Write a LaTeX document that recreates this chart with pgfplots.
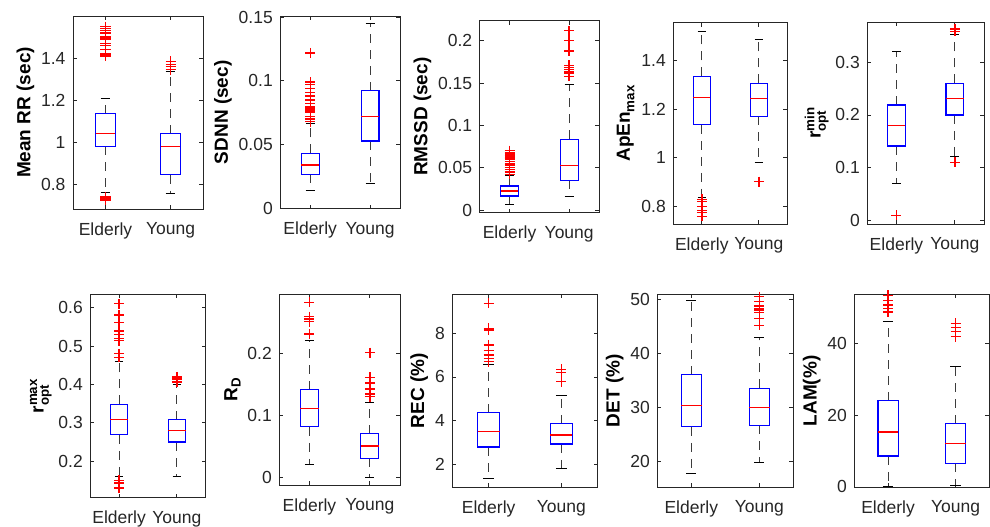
\documentclass[border=0pt]{standalone}
\usepackage{amsmath}
\usepackage{fontspec}
\setmainfont{Liberation Sans}
\usepackage{pgfplots}
\pgfplotsset{compat=1.18}
\usepgfplotslibrary{statistics}
\definecolor{axc}{RGB}{38,38,38}
\definecolor{wk}{RGB}{60,60,60}
\pgfplotsset{
  panel/.style={
    scale only axis,
    anchor=north west,
    xmin=0.5, xmax=2.5,
    xtick={1,2}, xticklabels={Elderly,Young},
    tick align=inside,
    major tick length=4pt,
    axis line style={draw=axc, line width=0.8pt},
    every tick/.style={draw=axc, line width=0.8pt},
    tick label style={font=\fontsize{17.5}{20}\selectfont, text=axc},
    xticklabel style={yshift=-10pt},
    yticklabel style={xshift=-4pt},
    label style={font=\fontsize{19}{22}\selectfont\bfseries, text=black},
    /pgf/number format/assume math mode=true,
    scaled y ticks=false,
    boxplot/draw direction=y,
    boxplot/box extend=0.3,
    boxplot/whisker extend=0.15,
    boxplot/every box/.style={draw=blue, line width=1.2pt},
    boxplot/every median/.style={draw=red, line width=1.2pt},
    boxplot/draw/lower whisker/.code={%
      \draw[wk, line width=1.1pt, dash pattern=on 9pt off 7pt]
        (boxplot box cs:\pgfplotsboxplotvalue{lower quartile},0.5) --
        (boxplot box cs:\pgfplotsboxplotvalue{lower whisker},0.5);
      \draw[black, line width=1pt]
        (boxplot whisker cs:\pgfplotsboxplotvalue{lower whisker},0) --
        (boxplot whisker cs:\pgfplotsboxplotvalue{lower whisker},1);
    },
    boxplot/draw/upper whisker/.code={%
      \draw[wk, line width=1.1pt, dash pattern=on 9pt off 7pt]
        (boxplot box cs:\pgfplotsboxplotvalue{upper quartile},0.5) --
        (boxplot box cs:\pgfplotsboxplotvalue{upper whisker},0.5);
      \draw[black, line width=1pt]
        (boxplot whisker cs:\pgfplotsboxplotvalue{upper whisker},0) --
        (boxplot whisker cs:\pgfplotsboxplotvalue{upper whisker},1);
    },
  },
  bx/.style={draw=blue, mark=+, mark size=5pt, mark options={draw=red, solid, line width=1.4pt}},
}
\begin{document}
\begin{tikzpicture}
\useasboundingbox (0,0) rectangle (990pt,-527pt);
% Panel 1: Mean RR
\begin{axis}[panel, at={(73pt,-16pt)}, width=130pt, height=193pt,
  ymin=0.682, ymax=1.60, ytick={0.8,1,1.2,1.4}, yticklabels={0.8,1,1.2,1.4},
  ylabel={Mean RR (sec)}]
\addplot[bx, boxplot prepared={draw position=1, median=1.04, lower quartile=0.98, upper quartile=1.135, lower whisker=0.762, upper whisker=1.208}]
  coordinates {(1,1.41) (1,1.42) (1,1.44) (1,1.46) (1,1.47) (1,1.49) (1,1.50) (1,1.52) (1,1.53) (1,1.54) (1,1.55) (1,0.725) (1,0.735) (1,0.74)};
\addplot[bx, boxplot prepared={draw position=2, median=0.98, lower quartile=0.845, upper quartile=1.04, lower whisker=0.754, upper whisker=1.336}]
  coordinates {(2,1.345) (2,1.36) (2,1.37) (2,1.385)};
\end{axis}
% Panel 2: SDNN
\begin{axis}[panel, at={(280.3pt,-16pt)}, width=119.7pt, height=192.7pt,
  ymin=-0.0005, ymax=0.151, ytick={0,0.05,0.1,0.15}, yticklabels={0,0.05,0.1,0.15},
  ylabel={SDNN (sec)}]
\addplot[bx, boxplot prepared={draw position=1, median=0.0338, lower quartile=0.0265, upper quartile=0.043, lower whisker=0.0139, upper whisker=0.0666}]
  coordinates {(1,0.068) (1,0.070) (1,0.072) (1,0.075) (1,0.076) (1,0.077) (1,0.078) (1,0.079) (1,0.080) (1,0.082) (1,0.085) (1,0.088) (1,0.091) (1,0.094) (1,0.097) (1,0.099) (1,0.122)};
\addplot[bx, boxplot prepared={draw position=2, median=0.0723, lower quartile=0.0527, upper quartile=0.0922, lower whisker=0.0191, upper whisker=0.1452}]
  coordinates {};
\end{axis}
% Panel 3: RMSSD
\begin{axis}[panel, at={(479.7pt,-20.7pt)}, width=119.3pt, height=192pt,
  ymin=-0.0032, ymax=0.2236, ytick={0,0.05,0.1,0.15,0.2}, yticklabels={0,0.05,0.1,0.15,0.2},
  ylabel={RMSSD (sec)}]
\addplot[bx, boxplot prepared={draw position=1, median=0.0225, lower quartile=0.0165, upper quartile=0.0284, lower whisker=0.0063, upper whisker=0.0405}]
  coordinates {(1,0.042) (1,0.045) (1,0.048) (1,0.050) (1,0.053) (1,0.055) (1,0.057) (1,0.060) (1,0.062) (1,0.064) (1,0.066) (1,0.068) (1,0.070)};
\addplot[bx, boxplot prepared={draw position=2, median=0.0524, lower quartile=0.0351, upper quartile=0.0836, lower whisker=0.0162, upper whisker=0.1478}]
  coordinates {(2,0.158) (2,0.161) (2,0.163) (2,0.166) (2,0.168) (2,0.171) (2,0.188) (2,0.200) (2,0.212)};
\end{axis}
% Panel 4: ApEn max
\begin{axis}[panel, at={(673.3pt,-22.7pt)}, width=114pt, height=201.3pt,
  ymin=0.729, ymax=1.553, ytick={0.8,1,1.2,1.4}, yticklabels={0.8,1,1.2,1.4},
  ylabel={$\textbf{ApEn}_{\textbf{max}}$}]
\addplot[bx, boxplot prepared={draw position=1, median=1.246, lower quartile=1.135, upper quartile=1.333, lower whisker=0.837, upper whisker=1.515}]
  coordinates {(1,0.76) (1,0.775) (1,0.785) (1,0.80) (1,0.82) (1,0.83)};
\addplot[bx, boxplot prepared={draw position=2, median=1.243, lower quartile=1.17, upper quartile=1.305, lower whisker=0.98, upper whisker=1.486}]
  coordinates {(2,0.902)};
\end{axis}
% Panel 5: r opt min
\begin{axis}[panel, at={(867.3pt,-22pt)}, width=116.7pt, height=202pt,
  ymin=-0.007, ymax=0.3765, ytick={0,0.1,0.2,0.3}, yticklabels={0,0.1,0.2,0.3},
  ylabel={$\textbf{r}^{\textbf{min}}_{\textbf{opt}}$}]
\addplot[bx, boxplot prepared={draw position=1, median=0.18, lower quartile=0.141, upper quartile=0.219, lower whisker=0.07, upper whisker=0.3196}]
  coordinates {(1,0.0095)};
\addplot[bx, boxplot prepared={draw position=2, median=0.231, lower quartile=0.2, upper quartile=0.26, lower whisker=0.122, upper whisker=0.3535}]
  coordinates {(2,0.110) (2,0.359) (2,0.362) (2,0.364)};
\end{axis}
% Panel 6: r opt max
\begin{axis}[panel, at={(90.3pt,-294.3pt)}, width=115.4pt, height=203.4pt,
  ymin=0.105, ymax=0.635, ytick={0.2,0.3,0.4,0.5,0.6}, yticklabels={0.2,0.3,0.4,0.5,0.6},
  ylabel={$\textbf{r}^{\textbf{max}}_{\textbf{opt}}$}]
\addplot[bx, boxplot prepared={draw position=1, median=0.3085, lower quartile=0.269, upper quartile=0.348, lower whisker=0.16, upper whisker=0.46}]
  coordinates {(1,0.471) (1,0.48) (1,0.514) (1,0.52) (1,0.531) (1,0.539) (1,0.561) (1,0.581) (1,0.611) (1,0.13) (1,0.143) (1,0.15)};
\addplot[bx, boxplot prepared={draw position=2, median=0.28, lower quartile=0.25, upper quartile=0.3085, lower whisker=0.16, upper whisker=0.40}]
  coordinates {(2,0.407) (2,0.414) (2,0.42)};
\end{axis}
% Panel 7: R_D
\begin{axis}[panel, at={(279.3pt,-294.3pt)}, width=120.7pt, height=191pt,
  ymin=-0.013, ymax=0.295, ytick={0,0.1,0.2}, yticklabels={0,0.1,0.2},
  ylabel={$\textbf{R}_{\textbf{D}}$}]
\addplot[bx, boxplot prepared={draw position=1, median=0.111, lower quartile=0.0812, upper quartile=0.1409, lower whisker=0.021, upper whisker=0.221}]
  coordinates {(1,0.231) (1,0.251) (1,0.255) (1,0.259) (1,0.282)};
\addplot[bx, boxplot prepared={draw position=2, median=0.0505, lower quartile=0.0306, upper quartile=0.0704, lower whisker=0.0, upper whisker=0.12}]
  coordinates {(2,0.130) (2,0.134) (2,0.142) (2,0.152) (2,0.161) (2,0.201)};
\end{axis}
% Panel 8: REC
\begin{axis}[panel, at={(452.3pt,-294.3pt)}, width=145.4pt, height=192.7pt,
  ymin=0.96, ymax=9.785, ytick={2,4,6,8}, yticklabels={2,4,6,8},
  ylabel={REC (\%)}]
\addplot[bx, boxplot prepared={draw position=1, median=3.5, lower quartile=2.79, upper quartile=4.37, lower whisker=1.36, upper whisker=6.56}]
  coordinates {(1,6.7) (1,6.85) (1,7.0) (1,7.2) (1,7.47) (1,8.15) (1,8.23) (1,9.37)};
\addplot[bx, boxplot prepared={draw position=2, median=3.34, lower quartile=2.93, upper quartile=3.86, lower whisker=1.82, upper whisker=5.16}]
  coordinates {(2,5.79) (2,6.2) (2,6.35)};
\end{axis}
% Panel 9: DET
\begin{axis}[panel, at={(657.3pt,-294.3pt)}, width=136pt, height=192.7pt,
  ymin=15.24, ymax=50.93, ytick={20,30,40,50}, yticklabels={20,30,40,50},
  ylabel={DET (\%)}]
\addplot[bx, boxplot prepared={draw position=1, median=30.37, lower quartile=26.4, upper quartile=36.05, lower whisker=17.7, upper whisker=49.75}]
  coordinates {};
\addplot[bx, boxplot prepared={draw position=2, median=30.0, lower quartile=26.67, upper quartile=33.5, lower whisker=19.7, upper whisker=42.9}]
  coordinates {(2,45.2) (2,46.4) (2,47.6) (2,48.0) (2,48.3) (2,48.8) (2,49.6) (2,50.5)};
\end{axis}
% Panel 10: LAM
\begin{axis}[panel, at={(854.3pt,-294.3pt)}, width=135pt, height=193pt,
  ymin=-0.1, ymax=53.6, ytick={0,20,40}, yticklabels={0,20,40},
  ylabel={LAM(\%)}]
\addplot[bx, boxplot prepared={draw position=1, median=15.3, lower quartile=8.6, upper quartile=24.0, lower whisker=0.2, upper whisker=45.9}]
  coordinates {(1,48.7) (1,49.6) (1,50.6) (1,51.9) (1,53.3)};
\addplot[bx, boxplot prepared={draw position=2, median=12.1, lower quartile=6.6, upper quartile=17.6, lower whisker=0.46, upper whisker=33.5}]
  coordinates {(2,41.8) (2,43.2) (2,44.4) (2,45.5)};
\end{axis}
\end{tikzpicture}
\end{document}
